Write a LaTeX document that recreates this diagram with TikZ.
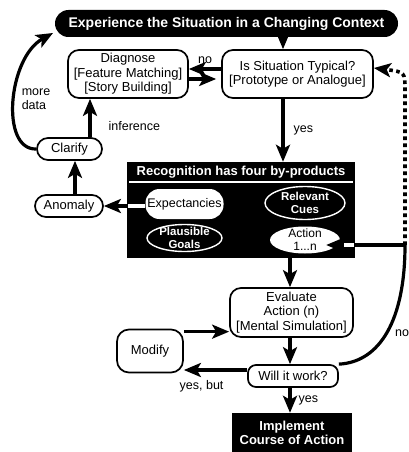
\documentclass[tikz,border=0pt]{standalone}
\usepackage{fontspec}
\setmainfont{Liberation Sans}
\usetikzlibrary{arrows.meta, math, shapes.geometric}

\tikzset{
  txt/.style={font=\fontsize{13}{14.5}\selectfont, align=center, inner sep=0pt},
  wtxt/.style={font=\bfseries\fontsize{13}{14}\selectfont, align=center, inner sep=0pt, text=white},
  rbox/.style={txt, draw, line width=1.7pt, rounded corners=11pt},
  blk/.style={wtxt, fill=black},
  oval/.style={ellipse, inner sep=0pt},
  tip/.style={-{Stealth[length=17pt, width=14pt, inset=4pt]}},
  arr/.style={line width=3.2pt, tip},
  dots/.style={line width=3.6pt, dash pattern=on 3.6pt off 3.4pt},
  lbl/.style={font=\fontsize{12.5}{13.5}\selectfont, inner sep=0pt, align=left},
}

\begin{document}
\begin{tikzpicture}[x=1pt, y=-1pt]
\tikzmath{
\xa=283; % yes column
\xb=290; % evaluate column
\xr=405; % return line on the right
}
\useasboundingbox (0,0) rectangle (409,452);

\coordinate (ya) at (\xa,0);
\coordinate (yb) at (\xb,0);
\coordinate (yi) at (90,0);
\coordinate (yc) at (75,0);
\coordinate (nj) at (\xr,245);%junction of the no lines
\coordinate (mdtip) at (53,33);

%top banner
\node[blk, font=\bfseries\fontsize{14}{15}\selectfont, rounded corners=13.5pt, minimum width=343pt, minimum height=27pt] (exp) at (226.5,23.5) {Experience the Situation in a Changing Context};

%diagnose and typical
\node[rbox, minimum width=120pt, minimum height=48pt] (diag) at (128,74) {Diagnose\\{[Feature Matching]}\\{[Story Building]}};
\node[rbox, minimum width=151pt, minimum height=48pt] (typ) at (297.5,74) {Is Situation Typical?\\{[Prototype or Analogue]}};

%left column
\node[rbox, minimum width=65pt, minimum height=22pt] (clar) at (69.5,149) {Clarify};
\node[rbox, minimum width=68pt, minimum height=22pt] (anom) at (69,206) {Anomaly};

%recognition box
\node[fill=black, minimum width=228pt, minimum height=96pt, inner sep=0pt] (rec) at (241,210) {};
\node[wtxt] (rectitle) at (241,172) {Recognition has four by-products};
\draw[white, line width=1.2pt] (129,182) -- (353,182);
\node[fill=white, rounded corners=14pt, minimum width=78pt, minimum height=30pt, inner sep=0pt] (expect) at (184.5,204) {};
\node[txt, font=\fontsize{12.5}{14}\selectfont] at (expect) {Expectancies};
\node[oval, draw=white, line width=1.4pt, minimum width=80pt, minimum height=33pt] (cues) at (305,203) {};
\node[wtxt, font=\bfseries\fontsize{11.5}{13}\selectfont] at (cues) {Relevant\\Cues};
\node[oval, draw=white, line width=1.4pt, minimum width=75pt, minimum height=27pt] (goals) at (184.5,238) {};
\node[wtxt, font=\bfseries\fontsize{11.5}{13}\selectfont] at (goals) {Plausible\\Goals};
\node[oval, fill=white, minimum width=70pt, minimum height=27pt] (act) at (305,240) {};
\node[txt, font=\fontsize{12}{13}\selectfont] at (act) {Action\\1...n};

%evaluation part
\node[rbox, minimum width=123pt, minimum height=49pt] (eval) at (291.5,312.5) {Evaluate\\Action (n)\\{[Mental Simulation]}};
\node[rbox, rounded corners=12pt, minimum width=66pt, minimum height=43pt] (mod) at (150,351) {Modify};
\node[rbox, rounded corners=8pt, minimum width=90pt, minimum height=22pt] (will) at (293,376) {Will it work?};
\node[blk, minimum width=120pt, minimum height=40pt] (impl) at (292,433) {Implement\\Course of Action};

%connectors
\draw[arr] (exp.south -| ya) -- (typ.north -| ya);
\draw[arr] ([yshift=5pt]typ.west) -- ([yshift=5pt]diag.east) node[lbl, midway, above=4pt] {no};
\draw[arr, shorten >=5pt] ([yshift=-5pt]diag.east) -- ([yshift=-5pt]typ.west);
\draw[arr] (typ.south -| ya) -- (rec.north -| ya) node[lbl, midway, right=9pt] {yes};
\draw[arr] (clar.north -| yi) -- (diag.south -| yi) node[lbl, pos=0.3, right=17pt] {inference};
\draw[arr] (anom.north -| yc) -- (clar.south -| yc);
\draw[arr] (clar.west) .. controls (0,150) and (8,58) .. (mdtip);
\node[lbl] at (36,99) {more\\data};
\draw[arr] (expect.west |- anom) -- (anom.east);
\draw[white, line width=3.2pt] (expect.west |- anom) -- ([xshift=1pt]rec.west |- anom);
\draw[arr] (act.south -| yb) -- (eval.north -| yb);
\draw[arr] (eval.south -| yb) -- (will.north -| yb);
\draw[arr] (will.south -| yb) -- (impl.north -| yb) node[lbl, midway, right=7pt] {yes};
\draw[arr] ([yshift=-3pt]mod.north east) -- ([yshift=-3pt]mod.north east -| eval.west);
\draw[arr] ([yshift=6pt]will.west) -- ([yshift=6pt]will.west -| mod.east) node[lbl, pos=0.72, below=9pt] {yes, but};

%no: back to the action and the situation
\draw[line width=3.2pt] (will.north east) .. controls (380,362) and (\xr,320) .. (nj);
\node[lbl, anchor=west] at (395,333) {no};
\draw[arr] (nj) -- ([xshift=-14pt]act.east |- nj);
\draw[white, line width=3.2pt] ([xshift=-1pt]rec.east |- nj) -- ([xshift=4pt]act.east |- nj);
\draw[dots, tip] (nj) -- (\xr,90) .. controls (\xr,72) .. ([yshift=6pt]typ.east);
\end{tikzpicture}
\end{document}
